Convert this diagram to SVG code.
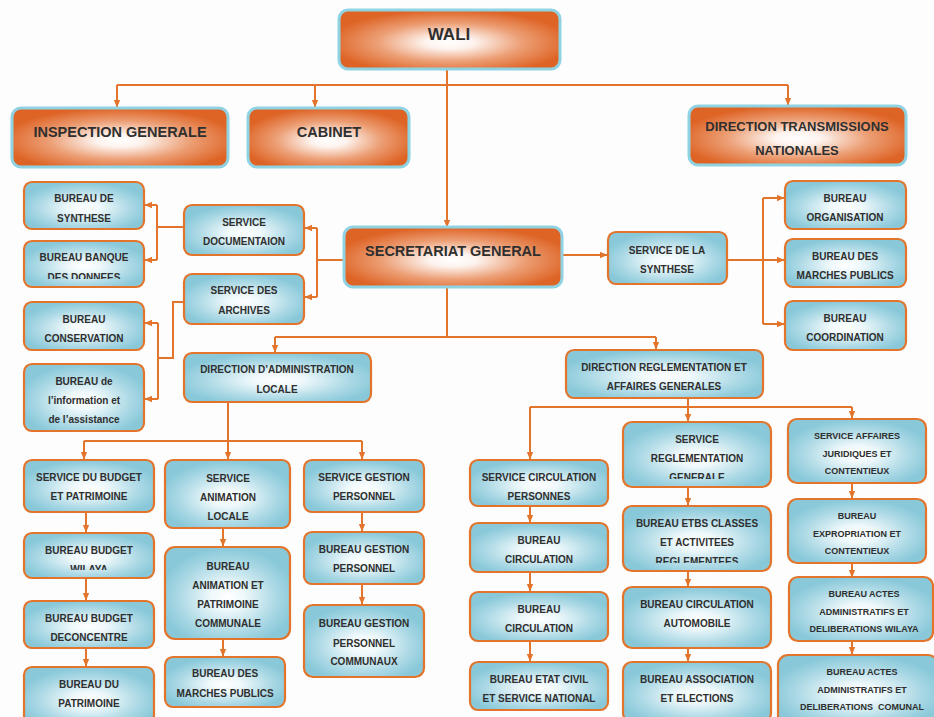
<svg xmlns="http://www.w3.org/2000/svg" width="934" height="717" viewBox="0 0 934 717">
  <defs>
    <radialGradient id="gOrange" cx="0.5" cy="0.55" r="0.55">
      <stop offset="0" stop-color="#ffffff"/>
      <stop offset="0.2" stop-color="#fdf3ee"/>
      <stop offset="0.6" stop-color="#ec9e74"/>
      <stop offset="1" stop-color="#de6426"/>
    </radialGradient>
    <radialGradient id="gBlue" cx="0.5" cy="0.55" r="0.55">
      <stop offset="0" stop-color="#ffffff"/>
      <stop offset="0.25" stop-color="#eef8fb"/>
      <stop offset="0.7" stop-color="#acd9e5"/>
      <stop offset="1" stop-color="#88c8d9"/>
    </radialGradient>
    <marker id="arr" markerWidth="8" markerHeight="8" refX="7" refY="4" orient="auto" markerUnits="userSpaceOnUse">
      <path d="M0,0.8 L7.5,4 L0,7.2 Z" fill="#e2752b"/>
    </marker>
    <clipPath id="cBanque"><rect x="24" y="241" width="120" height="38"/></clipPath>
    <clipPath id="cWilaya"><rect x="24" y="533" width="130" height="37"/></clipPath>
    <clipPath id="cRegl"><rect x="623" y="422" width="148" height="57"/></clipPath>
    <clipPath id="cEtbs"><rect x="623" y="506" width="148" height="57"/></clipPath>
  </defs>
  <style>
    .top rect { fill: url(#gOrange); stroke: #8fd3e3; stroke-width: 3; }
    .box rect { fill: url(#gBlue); stroke: #e2752b; stroke-width: 2.2; }
    text { font-family: "Liberation Sans", Arial, sans-serif; font-weight: bold; fill: #2f2f2f; text-anchor: middle; }
    .top text { font-size: 14.5px; }
    .box text { font-size: 10px; }
    .box text.s { font-size: 9px; }
    #connectors path { fill: none; stroke: #e2752b; stroke-width: 2; }
    #connectors path.a { marker-end: url(#arr); }
  </style>
  <rect width="934" height="717" fill="#fdfdfd"/>

  <!-- connectors -->
  <g id="connectors">
    <!-- WALI level -->
    <path class="a" d="M447,69 V227"/>
    <path d="M117,85 H788"/>
    <path class="a" d="M117,85 V107"/>
    <path class="a" d="M315,85 V107"/>
    <path class="a" d="M788,85 V105"/>
    <!-- Secretariat left -->
    <path d="M344,260 H317 M317,228 V297"/>
    <path class="a" d="M317,228 H305"/>
    <path class="a" d="M317,297 H305"/>
    <path d="M184,227 H157 M157,205 V260"/>
    <path class="a" d="M157,205 H145"/>
    <path class="a" d="M157,260 H145"/>
    <path d="M184,302 H173 V358 H158 M158,323 V399"/>
    <path class="a" d="M158,323 H145"/>
    <path class="a" d="M158,399 H145"/>
    <!-- Secretariat right -->
    <path class="a" d="M562,255 H607"/>
    <path d="M727,260 H763 M763,198 V324"/>
    <path class="a" d="M763,198 H784"/>
    <path class="a" d="M763,260 H784"/>
    <path class="a" d="M763,324 H784"/>
    <!-- Secretariat down -->
    <path d="M447,287 V337 M275,337 H656"/>
    <path class="a" d="M275,337 V352"/>
    <path class="a" d="M656,337 V349"/>
    <!-- Direction d'administration locale -->
    <path d="M228,402 V441 M84,441 H362"/>
    <path class="a" d="M84,441 V459"/>
    <path class="a" d="M228,441 V459"/>
    <path class="a" d="M362,441 V459"/>
    <path class="a" d="M86,512 V532"/>
    <path class="a" d="M86,578 V600"/>
    <path class="a" d="M86,648 V666"/>
    <path class="a" d="M223,528 V546"/>
    <path class="a" d="M223,639 V656"/>
    <path class="a" d="M362,512 V531"/>
    <path class="a" d="M362,584 V604"/>
    <!-- Direction reglementation -->
    <path d="M688,398 V407 M530,407 H852"/>
    <path class="a" d="M530,407 V459"/>
    <path class="a" d="M688,407 V421"/>
    <path class="a" d="M852,407 V418"/>
    <path class="a" d="M530,506 V522"/>
    <path class="a" d="M530,572 V591"/>
    <path class="a" d="M530,641 V661"/>
    <path class="a" d="M688,487 V505"/>
    <path class="a" d="M688,571 V586"/>
    <path class="a" d="M688,648 V661"/>
    <path class="a" d="M852,483 V498"/>
    <path class="a" d="M852,563 V577"/>
    <path class="a" d="M852,641 V654"/>
  </g>

  <!-- top level -->
  <g id="wali" class="top">
    <rect x="339" y="10" width="221" height="59" rx="9"/>
    <text x="449" y="40" style="font-size:17px">WALI</text>
  </g>
  <g id="inspection-generale" class="top">
    <rect x="12" y="108" width="216" height="59" rx="9"/>
    <text x="120" y="137">INSPECTION GENERALE</text>
  </g>
  <g id="cabinet" class="top">
    <rect x="248" y="108" width="161" height="59" rx="9"/>
    <text x="329" y="137">CABINET</text>
  </g>
  <g id="direction-transmissions" class="top">
    <rect x="689" y="106" width="217" height="59" rx="9"/>
    <text x="797" y="131" style="font-size:13px">DIRECTION TRANSMISSIONS</text>
    <text x="797" y="155" style="font-size:13px">NATIONALES</text>
  </g>
  <g id="secretariat-general" class="top">
    <rect x="344" y="227" width="218" height="60" rx="9"/>
    <text x="453" y="256">SECRETARIAT GENERAL</text>
  </g>

  <!-- secretariat left branch -->
  <g id="bureau-synthese" class="box">
    <rect x="24" y="182" width="120" height="47" rx="8"/>
    <text x="84" y="202">BUREAU DE</text>
    <text x="84" y="222">SYNTHESE</text>
  </g>
  <g id="bureau-banque" class="box">
    <rect x="24" y="241" width="120" height="46" rx="8"/>
    <g clip-path="url(#cBanque)">
      <text x="84" y="261">BUREAU BANQUE</text>
      <text x="84" y="281">DES DONNEES</text>
    </g>
  </g>
  <g id="service-documentation" class="box">
    <rect x="184" y="205" width="120" height="50" rx="8"/>
    <text x="244" y="226">SERVICE</text>
    <text x="244" y="245">DOCUMENTAION</text>
  </g>
  <g id="service-archives" class="box">
    <rect x="184" y="274" width="120" height="50" rx="8"/>
    <text x="244" y="294">SERVICE DES</text>
    <text x="244" y="314">ARCHIVES</text>
  </g>
  <g id="bureau-conservation" class="box">
    <rect x="24" y="302" width="120" height="48" rx="8"/>
    <text x="84" y="323">BUREAU</text>
    <text x="84" y="342">CONSERVATION</text>
  </g>
  <g id="bureau-information" class="box">
    <rect x="24" y="364" width="120" height="67" rx="8"/>
    <text x="84" y="385">BUREAU de</text>
    <text x="84" y="404">l’information et</text>
    <text x="84" y="423">de l’assistance</text>
  </g>

  <!-- secretariat right branch -->
  <g id="service-synthese" class="box">
    <rect x="608" y="232" width="119" height="52" rx="8"/>
    <text x="667" y="254">SERVICE DE LA</text>
    <text x="667" y="273">SYNTHESE</text>
  </g>
  <g id="bureau-organisation" class="box">
    <rect x="785" y="181" width="121" height="48" rx="8"/>
    <text x="845" y="202">BUREAU</text>
    <text x="845" y="221">ORGANISATION</text>
  </g>
  <g id="bureau-marches-publics-sg" class="box">
    <rect x="785" y="239" width="121" height="48" rx="8"/>
    <text x="845" y="260">BUREAU DES</text>
    <text x="845" y="279">MARCHES PUBLICS</text>
  </g>
  <g id="bureau-coordination" class="box">
    <rect x="785" y="301" width="121" height="49" rx="8"/>
    <text x="845" y="322">BUREAU</text>
    <text x="845" y="341">COORDINATION</text>
  </g>

  <!-- directions -->
  <g id="direction-administration-locale" class="box">
    <rect x="184" y="353" width="187" height="49" rx="8"/>
    <text x="277" y="373">DIRECTION D’ADMINISTRATION</text>
    <text x="277" y="393">LOCALE</text>
  </g>
  <g id="direction-reglementation" class="box">
    <rect x="566" y="350" width="197" height="48" rx="8"/>
    <text x="664" y="371">DIRECTION REGLEMENTATION ET</text>
    <text x="664" y="390">AFFAIRES GENERALES</text>
  </g>

  <!-- administration locale services -->
  <g id="service-budget" class="box">
    <rect x="24" y="460" width="130" height="52" rx="8"/>
    <text x="89" y="481">SERVICE DU BUDGET</text>
    <text x="89" y="500">ET PATRIMOINE</text>
  </g>
  <g id="bureau-budget-wilaya" class="box">
    <rect x="24" y="533" width="130" height="45" rx="8"/>
    <g clip-path="url(#cWilaya)">
      <text x="89" y="554">BUREAU BUDGET</text>
      <text x="89" y="573">WILAYA</text>
    </g>
  </g>
  <g id="bureau-budget-deconcentre" class="box">
    <rect x="24" y="601" width="130" height="47" rx="8"/>
    <text x="89" y="622">BUREAU BUDGET</text>
    <text x="89" y="641">DECONCENTRE</text>
  </g>
  <g id="bureau-patrimoine" class="box">
    <rect x="24" y="667" width="130" height="60" rx="8"/>
    <text x="89" y="688">BUREAU DU</text>
    <text x="89" y="707">PATRIMOINE</text>
  </g>
  <g id="service-animation" class="box">
    <rect x="165" y="460" width="125" height="68" rx="8"/>
    <text x="228" y="482">SERVICE</text>
    <text x="228" y="501">ANIMATION</text>
    <text x="228" y="520">LOCALE</text>
  </g>
  <g id="bureau-animation" class="box">
    <rect x="165" y="547" width="125" height="92" rx="10"/>
    <text x="228" y="570">BUREAU</text>
    <text x="228" y="589">ANIMATION ET</text>
    <text x="228" y="608">PATRIMOINE</text>
    <text x="228" y="627">COMMUNALE</text>
  </g>
  <g id="bureau-marches-publics" class="box">
    <rect x="165" y="657" width="120" height="50" rx="8"/>
    <text x="225" y="677">BUREAU DES</text>
    <text x="225" y="697">MARCHES PUBLICS</text>
  </g>
  <g id="service-gestion" class="box">
    <rect x="304" y="460" width="120" height="52" rx="8"/>
    <text x="364" y="481">SERVICE GESTION</text>
    <text x="364" y="500">PERSONNEL</text>
  </g>
  <g id="bureau-gestion" class="box">
    <rect x="304" y="532" width="120" height="52" rx="8"/>
    <text x="364" y="553">BUREAU GESTION</text>
    <text x="364" y="572">PERSONNEL</text>
  </g>
  <g id="bureau-gestion-communaux" class="box">
    <rect x="304" y="605" width="120" height="72" rx="9"/>
    <text x="364" y="627">BUREAU GESTION</text>
    <text x="364" y="647">PERSONNEL</text>
    <text x="364" y="665">COMMUNAUX</text>
  </g>

  <!-- reglementation services -->
  <g id="service-circulation" class="box">
    <rect x="470" y="460" width="138" height="46" rx="8"/>
    <text x="539" y="481">SERVICE CIRCULATION</text>
    <text x="539" y="500">PERSONNES</text>
  </g>
  <g id="bureau-circulation-1" class="box">
    <rect x="470" y="523" width="138" height="49" rx="8"/>
    <text x="539" y="544">BUREAU</text>
    <text x="539" y="563">CIRCULATION</text>
  </g>
  <g id="bureau-circulation-2" class="box">
    <rect x="470" y="592" width="138" height="49" rx="8"/>
    <text x="539" y="613">BUREAU</text>
    <text x="539" y="632">CIRCULATION</text>
  </g>
  <g id="bureau-etat-civil" class="box">
    <rect x="470" y="662" width="138" height="48" rx="8"/>
    <text x="539" y="683">BUREAU ETAT CIVIL</text>
    <text x="539" y="702">ET SERVICE NATIONAL</text>
  </g>
  <g id="service-reglementation" class="box">
    <rect x="623" y="422" width="148" height="65" rx="9"/>
    <g clip-path="url(#cRegl)">
      <text x="697" y="443">SERVICE</text>
      <text x="697" y="462">REGLEMENTATION</text>
      <text x="697" y="481">GENERALE</text>
    </g>
  </g>
  <g id="bureau-etbs" class="box">
    <rect x="623" y="506" width="148" height="65" rx="9"/>
    <g clip-path="url(#cEtbs)">
      <text x="697" y="527">BUREAU ETBS CLASSES</text>
      <text x="697" y="546">ET ACTIVITEES</text>
      <text x="697" y="565">REGLEMENTEES</text>
    </g>
  </g>
  <g id="bureau-circulation-automobile" class="box">
    <rect x="623" y="587" width="148" height="61" rx="9"/>
    <text x="697" y="608">BUREAU CIRCULATION</text>
    <text x="697" y="627">AUTOMOBILE</text>
  </g>
  <g id="bureau-association" class="box">
    <rect x="623" y="662" width="148" height="60" rx="9"/>
    <text x="697" y="683">BUREAU ASSOCIATION</text>
    <text x="697" y="702">ET ELECTIONS</text>
  </g>
  <g id="service-affaires-juridiques" class="box">
    <rect x="788" y="419" width="138" height="64" rx="9"/>
    <text class="s" x="857" y="439">SERVICE AFFAIRES</text>
    <text class="s" x="857" y="457">JURIDIQUES ET</text>
    <text class="s" x="857" y="474">CONTENTIEUX</text>
  </g>
  <g id="bureau-expropriation" class="box">
    <rect x="788" y="499" width="138" height="64" rx="9"/>
    <text class="s" x="857" y="519">BUREAU</text>
    <text class="s" x="857" y="537">EXPROPRIATION ET</text>
    <text class="s" x="857" y="554">CONTENTIEUX</text>
  </g>
  <g id="bureau-actes-wilaya" class="box">
    <rect x="789" y="577" width="144" height="64" rx="9"/>
    <text class="s" x="864" y="597">BUREAU ACTES</text>
    <text class="s" x="864" y="615">ADMINISTRATIFS ET</text>
    <text class="s" x="864" y="632">DELIBERATIONS WILAYA</text>
  </g>
  <g id="bureau-actes-comunal" class="box">
    <rect x="778" y="655" width="160" height="70" rx="10"/>
    <text class="s" x="862" y="675">BUREAU ACTES</text>
    <text class="s" x="862" y="693">ADMINISTRATIFS ET</text>
    <text class="s" x="862" y="710" xml:space="preserve">DELIBERATIONS  COMUNAL</text>
  </g>
</svg>
